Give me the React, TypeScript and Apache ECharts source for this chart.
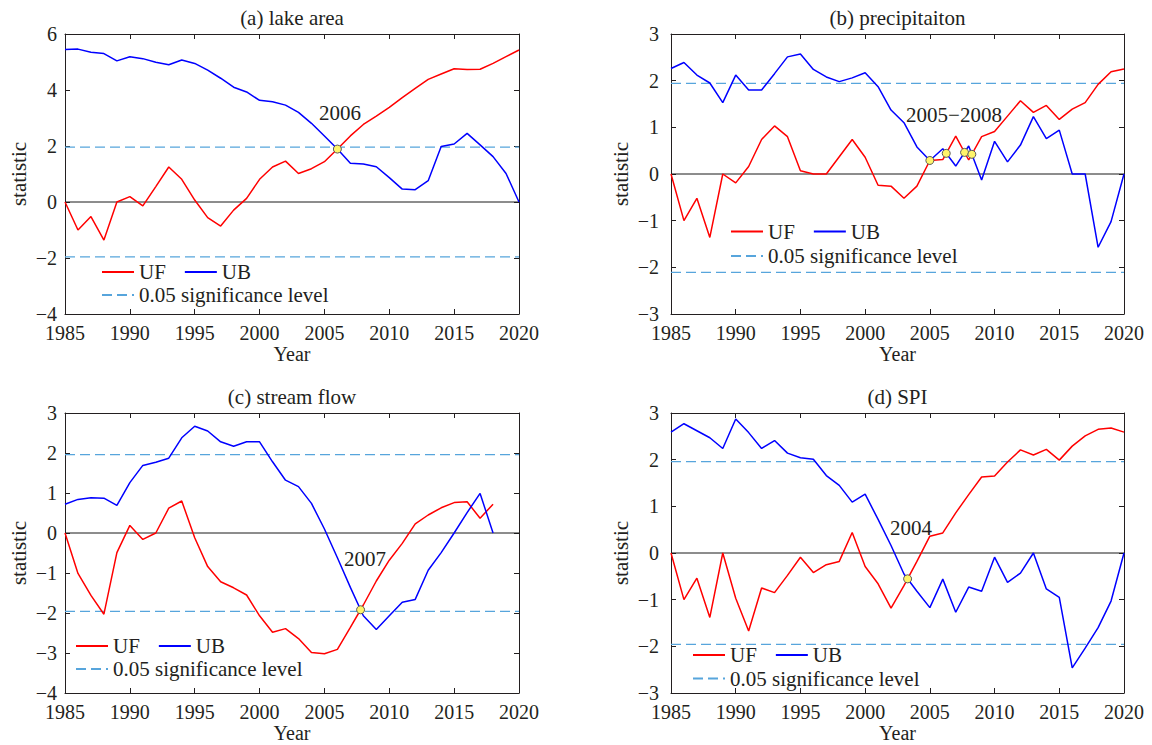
import React, { useEffect, useRef } from "react";
import * as echarts from "echarts";

// ---------- data ----------
const years = [
  1985, 1986, 1987, 1988, 1989, 1990, 1991, 1992, 1993, 1994, 1995, 1996,
  1997, 1998, 1999, 2000, 2001, 2002, 2003, 2004, 2005, 2006, 2007, 2008,
  2009, 2010, 2011, 2012, 2013, 2014, 2015, 2016, 2017, 2018, 2019, 2020,
];
const yearsC = [
  1985, 1986, 1987, 1988, 1989, 1990, 1991, 1992, 1993, 1994, 1995, 1996,
  1997, 1998, 1999, 2000, 2001, 2002, 2003, 2004, 2005, 2006, 2007, 2008,
  2009, 2010, 2011, 2012, 2013, 2014, 2015, 2016, 2017, 2018,
];

const ufA = [
  0, -1.0, -0.52, -1.36, 0.0, 0.19, -0.14, 0.55, 1.25, 0.81, 0.07, -0.56,
  -0.86, -0.29, 0.13, 0.81, 1.25, 1.46, 1.02, 1.19, 1.44, 1.89, 2.36, 2.77,
  3.07, 3.38, 3.73, 4.06, 4.38, 4.57, 4.76, 4.73, 4.74, 4.95, 5.19, 5.43,
];
const ubA = [
  5.45, 5.46, 5.35, 5.3, 5.04, 5.19, 5.12, 4.99, 4.9, 5.07, 4.95, 4.71,
  4.42, 4.1, 3.93, 3.63, 3.58, 3.46, 3.2, 2.81, 2.36, 1.89, 1.38, 1.36,
  1.26, 0.87, 0.46, 0.44, 0.76, 1.98, 2.07, 2.45, 2.04, 1.62, 1.02, 0,
];

const ufB = [
  0, -1.0, -0.52, -1.36, 0.0, -0.19, 0.16, 0.74, 1.03, 0.8, 0.07, 0.0,
  0.0, 0.37, 0.74, 0.36, -0.24, -0.26, -0.52, -0.26, 0.29, 0.31, 0.81, 0.3,
  0.8, 0.91, 1.24, 1.57, 1.32, 1.47, 1.17, 1.39, 1.53, 1.92, 2.19, 2.25,
];
const ubB = [
  2.26, 2.39, 2.12, 1.95, 1.53, 2.12, 1.8, 1.8, 2.15, 2.51, 2.57, 2.24,
  2.08, 1.98, 2.06, 2.17, 1.87, 1.37, 1.1, 0.58, 0.29, 0.54, 0.17, 0.6,
  -0.13, 0.7, 0.26, 0.62, 1.23, 0.76, 0.94, 0, 0, -1.57, -1.02, 0,
];

const ufC = [
  0, -1.01, -1.56, -2.03, -0.49, 0.19, -0.16, 0.0, 0.62, 0.8, -0.12, -0.84,
  -1.22, -1.37, -1.55, -2.07, -2.48, -2.39, -2.64, -2.99, -3.02, -2.91, -2.36, -1.8,
  -1.2, -0.68, -0.26, 0.23, 0.45, 0.63, 0.76, 0.78, 0.37, 0.72,
];
const ubC = [
  0.72, 0.84, 0.88, 0.87, 0.69, 1.26, 1.69, 1.77, 1.87, 2.38, 2.67, 2.55,
  2.28, 2.17, 2.28, 2.28, 1.78, 1.32, 1.16, 0.74, 0.1, -0.62, -1.36, -2.07,
  -2.41, -2.07, -1.73, -1.66, -0.93, -0.49, 0.0, 0.51, 0.99, 0,
];

const ufD = [
  0, -1.0, -0.54, -1.38, 0.0, -0.97, -1.67, -0.75, -0.85, -0.48, -0.09, -0.42,
  -0.25, -0.18, 0.44, -0.29, -0.66, -1.18, -0.7, -0.18, 0.36, 0.43, 0.86, 1.25,
  1.63, 1.65, 1.95, 2.21, 2.1, 2.22, 1.99, 2.29, 2.51, 2.65, 2.68, 2.59,
];
const ubD = [
  2.59, 2.77, 2.62, 2.47, 2.24, 2.87, 2.58, 2.24, 2.41, 2.14, 2.04, 2.01,
  1.66, 1.45, 1.09, 1.26, 0.72, 0.16, -0.45, -0.82, -1.17, -0.56, -1.27, -0.73,
  -0.82, -0.09, -0.63, -0.43, 0, -0.77, -0.95, -2.46, -2.04, -1.6, -1.03, 0,
];

// significance levels (upper, lower) per panel
const sigA = [1.96, -1.96];
const sigB = [1.94, -2.11];
const sigC = [1.96, -1.96];
const sigD = [1.96, -1.96];

// axis ranges [min, max, interval]
const xRange = [1985, 2020, 5];
const yRangeA = [-4, 6, 2];
const yRangeB = [-3, 3, 1];
const yRangeC = [-4, 3, 1];
const yRangeD = [-3, 3, 1];

const titles = ["(a) lake area", "(b) precipitaiton", "(c) stream flow", "(d) SPI"];
const notes = ["2006", "2005\u22122008", "2007", "2004"];
// year window in which UF/UB crossings are marked
const markWindows = [
  [1985, 2020],
  [1985, 2020],
  [2000, 2012],
  [1985, 2020],
];

const panels = [
  { x: years, uf: ufA, ub: ubA, sig: sigA, yr: yRangeA },
  { x: years, uf: ufB, ub: ubB, sig: sigB, yr: yRangeB },
  { x: yearsC, uf: ufC, ub: ubC, sig: sigC, yr: yRangeC },
  { x: years, uf: ufD, ub: ubD, sig: sigD, yr: yRangeD },
];

// ---------- layout (pixels) ----------
const layout = [
  { left: 65, top: 34, width: 454, height: 280, titleY: 18, note: [340, 113], lg: [101, 261.5, 284.5], nameGap: 36, labMargin: 8 },
  { left: 671, top: 34, width: 453, height: 280, titleY: 18, note: [954, 115], lg: [730, 221, 245.5], nameGap: 40, labMargin: 12 },
  { left: 65, top: 413, width: 454, height: 280, titleY: 397, note: [365, 559], lg: [75, 635.5, 658.5], nameGap: 36, labMargin: 8 },
  { left: 671, top: 413, width: 453, height: 280, titleY: 397, note: [911, 528], lg: [692, 644.5, 668], nameGap: 40, labMargin: 12 },
];

const FONT = "'Liberation Serif', 'Times New Roman', serif";
const TXT = "#231f20";
const AX = "#231f20";
const RED = "#ff0000";
const BLUE = "#0000ff";
const SIG = "#57a5dc";

function crossings(xs: number[], uf: number[], ub: number[], w: number[]) {
  const pts: number[][] = [];
  for (let i = 0; i < xs.length; i++) {
    if (xs[i] < w[0] || xs[i] > w[1]) continue;
    const d0 = uf[i] - ub[i];
    if (Math.abs(d0) < 1e-9) {
      pts.push([xs[i], uf[i]]);
      continue;
    }
    if (i + 1 < xs.length) {
      const d1 = uf[i + 1] - ub[i + 1];
      if (Math.abs(d1) > 1e-9 && d0 * d1 < 0) {
        const t = d0 / (d0 - d1);
        pts.push([xs[i] + t * (xs[i + 1] - xs[i]), uf[i] + t * (uf[i + 1] - uf[i])]);
      }
    }
  }
  return pts;
}

const fmtY = (v: number) => (v < 0 ? "\u2212" + String(-v) : String(v));

function buildOption() {
  const grid: any[] = [];
  const xAxis: any[] = [];
  const yAxis: any[] = [];
  const series: any[] = [];
  const legend: any[] = [];
  const graphic: any[] = [];
  const tick = { show: true, inside: true, length: 5, lineStyle: { color: AX, width: 1 } };
  const line = { show: true, onZero: false, lineStyle: { color: AX, width: 1 } };

  panels.forEach((p, i) => {
    const L = layout[i];
    grid.push({ left: L.left, top: L.top, width: L.width, height: L.height, containLabel: false });
    xAxis.push({
      gridIndex: i, type: "value", position: "bottom",
      min: xRange[0], max: xRange[1], interval: xRange[2],
      axisLine: line, axisTick: tick, splitLine: { show: false },
      axisLabel: { formatter: (v: number) => String(v), fontSize: 20, lineHeight: 18, fontFamily: FONT, color: TXT, margin: 10, showMinLabel: true, showMaxLabel: true },
      name: "Year", nameLocation: "middle", nameGap: 30,
      nameTextStyle: { fontSize: 20, fontFamily: FONT, color: TXT },
    });
    xAxis.push({
      gridIndex: i, type: "value", position: "top",
      min: xRange[0], max: xRange[1], interval: xRange[2],
      axisLine: line, axisTick: tick, splitLine: { show: false }, axisLabel: { show: false },
    });
    yAxis.push({
      gridIndex: i, type: "value", position: "left",
      min: p.yr[0], max: p.yr[1], interval: p.yr[2],
      axisLine: line, axisTick: tick, splitLine: { show: false },
      axisLabel: { formatter: fmtY, fontSize: 20, lineHeight: 18, fontFamily: FONT, color: TXT, margin: L.labMargin, showMinLabel: true, showMaxLabel: true },
      name: "statistic", nameLocation: "middle", nameGap: L.nameGap, nameRotate: 90,
      nameTextStyle: { fontSize: 21, fontFamily: FONT, color: TXT },
    });
    yAxis.push({
      gridIndex: i, type: "value", position: "right",
      min: p.yr[0], max: p.yr[1], interval: p.yr[2],
      axisLine: line, axisTick: tick, splitLine: { show: false }, axisLabel: { show: false },
    });

    const xi = 2 * i;
    const x0 = xRange[0];
    const x1 = xRange[1];
    const common = { xAxisIndex: xi, yAxisIndex: xi, type: "line", symbol: "none", showSymbol: false, silent: true };
    series.push({ ...common, name: "0.05 significance level", data: [[x0, p.sig[0]], [x1, p.sig[0]]], lineStyle: { color: SIG, width: 1.3, type: [10, 5] }, itemStyle: { color: SIG }, z: 2 });
    series.push({ ...common, name: "0.05 significance level", data: [[x0, p.sig[1]], [x1, p.sig[1]]], lineStyle: { color: SIG, width: 1.3, type: [10, 5] }, itemStyle: { color: SIG }, z: 2 });
    series.push({ ...common, name: "zero", data: [[x0, 0], [x1, 0]], lineStyle: { color: "#1a1a1a", width: 1 }, itemStyle: { color: "#1a1a1a" }, z: 2 });
    series.push({ ...common, name: "UF", data: p.x.map((x, k) => [x, p.uf[k]]), lineStyle: { color: RED, width: 1.5 }, itemStyle: { color: RED }, z: 3 });
    series.push({ ...common, name: "UB", data: p.x.map((x, k) => [x, p.ub[k]]), lineStyle: { color: BLUE, width: 1.5 }, itemStyle: { color: BLUE }, z: 3 });
    series.push({
      xAxisIndex: xi, yAxisIndex: xi, type: "scatter", name: "crossing", silent: true,
      data: crossings(p.x, p.uf, p.ub, markWindows[i]),
      symbol: "circle", symbolSize: 8,
      itemStyle: { color: "#fff46a", borderColor: "#5a5a5a", borderWidth: 1, opacity: 1 }, z: 5,
    });

    const lgText = { fontSize: 21, fontFamily: FONT, color: TXT };
    legend.push({
      left: L.lg[0], top: L.lg[1], orient: "horizontal", padding: 0,
      data: ["UF", "UB"], itemWidth: 32, itemHeight: 1, itemGap: 18,
      selectedMode: false, textStyle: lgText,
    });
    legend.push({
      left: L.lg[0], top: L.lg[2], orient: "horizontal", padding: 0,
      data: ["0.05 significance level"], itemWidth: 32, itemHeight: 1,
      selectedMode: false, textStyle: lgText,
    });

    graphic.push({
      type: "text", x: L.left + L.width / 2, y: L.titleY,
      style: { text: titles[i], fontSize: 21, fontFamily: FONT, fill: TXT, align: "center", verticalAlign: "middle", textAlign: "center", textVerticalAlign: "middle" },
    });
    graphic.push({
      type: "text", x: L.note[0], y: L.note[1], z: 10,
      style: { text: notes[i], fontSize: 21, fontFamily: FONT, fill: TXT, align: "center", verticalAlign: "middle", textAlign: "center", textVerticalAlign: "middle" },
    });
  });

  return {
    animation: false,
    backgroundColor: "#ffffff",
    grid, xAxis, yAxis, series, legend, graphic,
  };
}

export default function App() {
  const ref = useRef<HTMLDivElement>(null);
  useEffect(() => {
    if (!ref.current) return;
    const chart = echarts.init(ref.current, undefined, { renderer: "svg" });
    chart.setOption(buildOption() as any);
    return () => chart.dispose();
  }, []);
  return (
    <div
      ref={ref}
      style={{ position: "fixed", left: 0, top: 0, width: 1152, height: 745, background: "#fff" }}
    />
  );
}
